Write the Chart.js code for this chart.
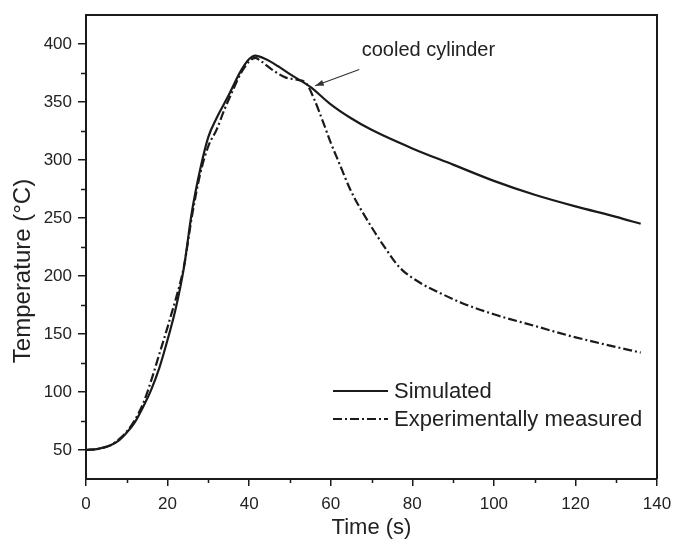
<!DOCTYPE html>
<html>
<head>
<meta charset="utf-8">
<script src="https://cdn.jsdelivr.net/npm/chart.js@4.4.0/dist/chart.umd.min.js"></script>
<style>
  html, body { margin: 0; padding: 0; background: #fff; }
  #wrap { width: 673px; height: 549px; }
</style>
</head>
<body>
<div id="wrap"><canvas id="tempChart" width="673" height="549"></canvas></div>
<script>
// data
const simTime = [0, 3, 6, 8, 10, 12, 14, 16, 18, 20, 22, 24, 26, 28, 30, 32, 35, 38, 40, 41.5, 44, 47, 50, 55, 60, 65, 70, 80, 90, 100, 110, 120, 130, 136];
const simTemp = [50, 51, 54, 58, 65, 74, 87, 102, 121, 145, 172, 207, 256, 292, 320, 336, 356, 377, 387, 390, 387, 381, 374, 363, 348, 336, 326, 310, 296, 282, 270, 260, 251, 245];

const expTime = [0, 3, 6, 8, 10, 12, 14, 16, 18, 19.5, 21, 22, 24, 26, 28, 30, 32, 34, 36, 38, 40, 41.5, 43, 46, 49, 52, 54, 56, 58, 60, 62, 65, 69, 73, 77, 82, 87, 92, 100, 110, 118, 126, 136];
const expTemp = [50, 51, 54, 59, 66, 76, 90, 110, 133, 150, 168, 180, 208, 252, 288, 312, 326, 344, 360, 375, 385, 388, 385, 377, 371, 369, 366, 352, 334, 315, 298, 273, 248, 226, 207, 194, 185, 177, 167, 157, 149, 142, 134];

const seriesLabels = ['Simulated', 'Experimentally measured'];
const xTicks = [0, 20, 40, 60, 80, 100, 120, 140];
const xMinorTicks = [10, 30, 50, 70, 90, 110, 130];
const yTicks = [50, 100, 150, 200, 250, 300, 350, 400];
const yMinorTicks = [75, 125, 175, 225, 275, 325, 375];
const xTitle = 'Time (s)';
const yTitle = 'Temperature (°C)';
const noteText = 'cooled cylinder';
const noteTextAt = [67.6, 394];   // time, temperature
const noteArrowFrom = [67, 378];
const noteArrowTo = [56.2, 364];

const ink = '#1a1a1a';
const textColor = '#222';
const fontFamily = '"Liberation Sans", Arial, sans-serif';

const toPoints = (xs, ys) => xs.map((x, i) => ({ x: x, y: ys[i] }));

// minor ticks, frame, y title, note and legend
const extras = {
  id: 'extras',
  afterDraw(chart) {
    const ctx = chart.ctx;
    const { left, right, top, bottom } = chart.chartArea;
    const xs = chart.scales.x, ys = chart.scales.y;
    ctx.save();
    ctx.strokeStyle = ink;

    // minor ticks
    ctx.lineWidth = 1.5;
    ctx.beginPath();
    xMinorTicks.forEach(v => {
      const px = Math.round(xs.getPixelForValue(v)) + 0.5;
      ctx.moveTo(px, bottom);
      ctx.lineTo(px, bottom + 4);
    });
    yMinorTicks.forEach(v => {
      const py = Math.round(ys.getPixelForValue(v)) + 0.5;
      ctx.moveTo(left, py);
      ctx.lineTo(left - 5, py);
    });
    ctx.stroke();

    // top and right frame
    ctx.lineWidth = 2;
    ctx.beginPath();
    ctx.moveTo(left, top);
    ctx.lineTo(right, top);
    ctx.lineTo(right, bottom);
    ctx.stroke();

    // y axis title
    ctx.fillStyle = textColor;
    ctx.font = '24px ' + fontFamily;
    ctx.textAlign = 'center';
    ctx.textBaseline = 'middle';
    ctx.translate(23, 271);
    ctx.rotate(-Math.PI / 2);
    ctx.fillText(yTitle, 0, 0);
    ctx.restore();

    // note with arrow
    ctx.save();
    ctx.fillStyle = textColor;
    ctx.strokeStyle = '#333';
    ctx.font = '20px ' + fontFamily;
    ctx.textAlign = 'left';
    ctx.textBaseline = 'middle';
    ctx.fillText(noteText, xs.getPixelForValue(noteTextAt[0]), ys.getPixelForValue(noteTextAt[1]));
    const ax = xs.getPixelForValue(noteArrowFrom[0]), ay = ys.getPixelForValue(noteArrowFrom[1]);
    const bx = xs.getPixelForValue(noteArrowTo[0]), by = ys.getPixelForValue(noteArrowTo[1]);
    const ang = Math.atan2(by - ay, bx - ax);
    ctx.lineWidth = 1.2;
    ctx.beginPath();
    ctx.moveTo(ax, ay);
    ctx.lineTo(bx, by);
    ctx.stroke();
    ctx.beginPath();
    ctx.moveTo(bx, by);
    ctx.lineTo(bx - 9 * Math.cos(ang - 0.35), by - 9 * Math.sin(ang - 0.35));
    ctx.lineTo(bx - 9 * Math.cos(ang + 0.35), by - 9 * Math.sin(ang + 0.35));
    ctx.closePath();
    ctx.fillStyle = '#333';
    ctx.fill();
    ctx.restore();

    // legend
    ctx.save();
    ctx.font = '22px ' + fontFamily;
    ctx.fillStyle = textColor;
    ctx.textBaseline = 'middle';
    chart.data.datasets.forEach((ds, i) => {
      const y = 391 + i * 28;
      ctx.strokeStyle = ds.borderColor;
      ctx.lineWidth = ds.borderWidth;
      ctx.setLineDash(ds.borderDash || []);
      ctx.beginPath();
      ctx.moveTo(333, y);
      ctx.lineTo(388, y);
      ctx.stroke();
      ctx.setLineDash([]);
      ctx.fillText(ds.label, 394, y + 1);
    });
    ctx.restore();
  }
};

new Chart(document.getElementById('tempChart').getContext('2d'), {
  type: 'line',
  data: {
    datasets: [
      {
        label: seriesLabels[0],
        data: toPoints(simTime, simTemp),
        borderColor: ink,
        borderWidth: 2.2,
        pointRadius: 0,
        cubicInterpolationMode: 'monotone',
        fill: false,
        order: 0
      },
      {
        label: seriesLabels[1],
        data: toPoints(expTime, expTemp),
        borderColor: ink,
        borderWidth: 2.2,
        borderDash: [9, 3, 2, 3],
        pointRadius: 0,
        cubicInterpolationMode: 'monotone',
        fill: false,
        order: 1
      }
    ]
  },
  options: {
    responsive: false,
    animation: false,
    layout: { padding: { top: 15, right: 16, left: 0, bottom: 0 } },
    plugins: { legend: { display: false }, tooltip: { enabled: false } },
    scales: {
      x: {
        type: 'linear',
        min: 0,
        max: 140,
        afterBuildTicks: s => { s.ticks = xTicks.map(v => ({ value: v })); },
        afterFit: s => { s.height = 70; s.paddingLeft = 0; s.paddingRight = 0; },
        ticks: { color: textColor, font: { size: 17, family: fontFamily }, padding: 8, maxRotation: 0, autoSkip: false },
        grid: { drawOnChartArea: false, drawTicks: true, tickLength: 7, color: ink, lineWidth: 1.5 },
        border: { display: true, color: ink, width: 2 },
        title: { display: true, text: xTitle, color: textColor, font: { size: 22, family: fontFamily }, padding: { top: 0, bottom: 8 } }
      },
      y: {
        type: 'linear',
        min: 25,
        max: 425,
        afterBuildTicks: s => { s.ticks = yTicks.map(v => ({ value: v })); },
        afterFit: s => { s.width = 86; s.paddingTop = 0; s.paddingBottom = 0; },
        ticks: { color: textColor, font: { size: 17, family: fontFamily }, padding: 6, autoSkip: false },
        grid: { drawOnChartArea: false, drawTicks: true, tickLength: 8, color: ink, lineWidth: 1.5 },
        border: { display: true, color: ink, width: 2 }
      }
    }
  },
  plugins: [extras]
});
</script>
</body>
</html>
